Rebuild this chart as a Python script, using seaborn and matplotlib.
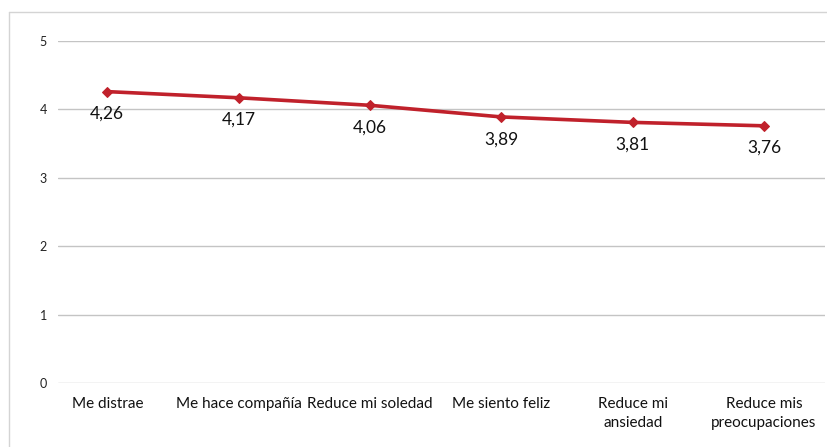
import matplotlib
matplotlib.use("Agg")
import matplotlib.pyplot as plt
import seaborn as sns
import pandas as pd
from matplotlib.lines import Line2D

categories = ["Me distrae", "Me hace compañía", "Reduce mi soledad",
              "Me siento feliz", "Reduce mi\nansiedad", "Reduce mis\npreocupaciones"]
values = [4.26, 4.17, 4.06, 3.89, 3.81, 3.76]
y_ticks = [0, 1, 2, 3, 4, 5]

sns.set_theme(style="white")
plt.rcParams['font.family'] = ['Lato', 'DejaVu Sans']

df = pd.DataFrame({"cat": categories, "val": values})

fig = plt.figure(figsize=(8.28, 4.47), dpi=100)
ax = fig.add_axes([58/828, 1-383/447, (825-58)/828, (383-41)/447])

sns.lineplot(data=df, x="cat", y="val", ax=ax, sort=False, color="#c0212b",
             linewidth=2.6, marker="D", markersize=5.5, markeredgecolor="#c0212b")

ax.set_xlim(-0.375, 5.464)
ax.set_ylim(0, 5)
ax.set_yticks(y_ticks)
ax.set_yticklabels([str(t) for t in y_ticks], fontsize=9, color="#222222")
ax.yaxis.grid(True, color="#c4c4c4", linewidth=1)
ax.set_axisbelow(True)
ax.tick_params(axis="y", length=0, pad=8)
ax.tick_params(axis="x", length=0, pad=10, labelcolor="#111111")
ax.set_xticks(range(len(categories)))
ax.set_xticklabels(categories, fontsize=11, linespacing=1.45)
for s in ax.spines.values():
    s.set_visible(False)
ax.set_xlabel("")
ax.set_ylabel("")

for i, v in enumerate(values):
    ax.annotate(f"{v:.2f}".replace(".", ","), (i, v), xytext=(0, -16),
                textcoords="offset points", ha="center", va="center",
                fontsize=12.5, color="#111111")

# outer frame
fig.add_artist(Line2D([9/828, 1], [1-12/447, 1-12/447], transform=fig.transFigure,
                      color="#d4d4d4", linewidth=1))
fig.add_artist(Line2D([9/828, 9/828], [0, 1-12/447], transform=fig.transFigure,
                      color="#d4d4d4", linewidth=1))

fig.savefig("out.png", dpi=100)
